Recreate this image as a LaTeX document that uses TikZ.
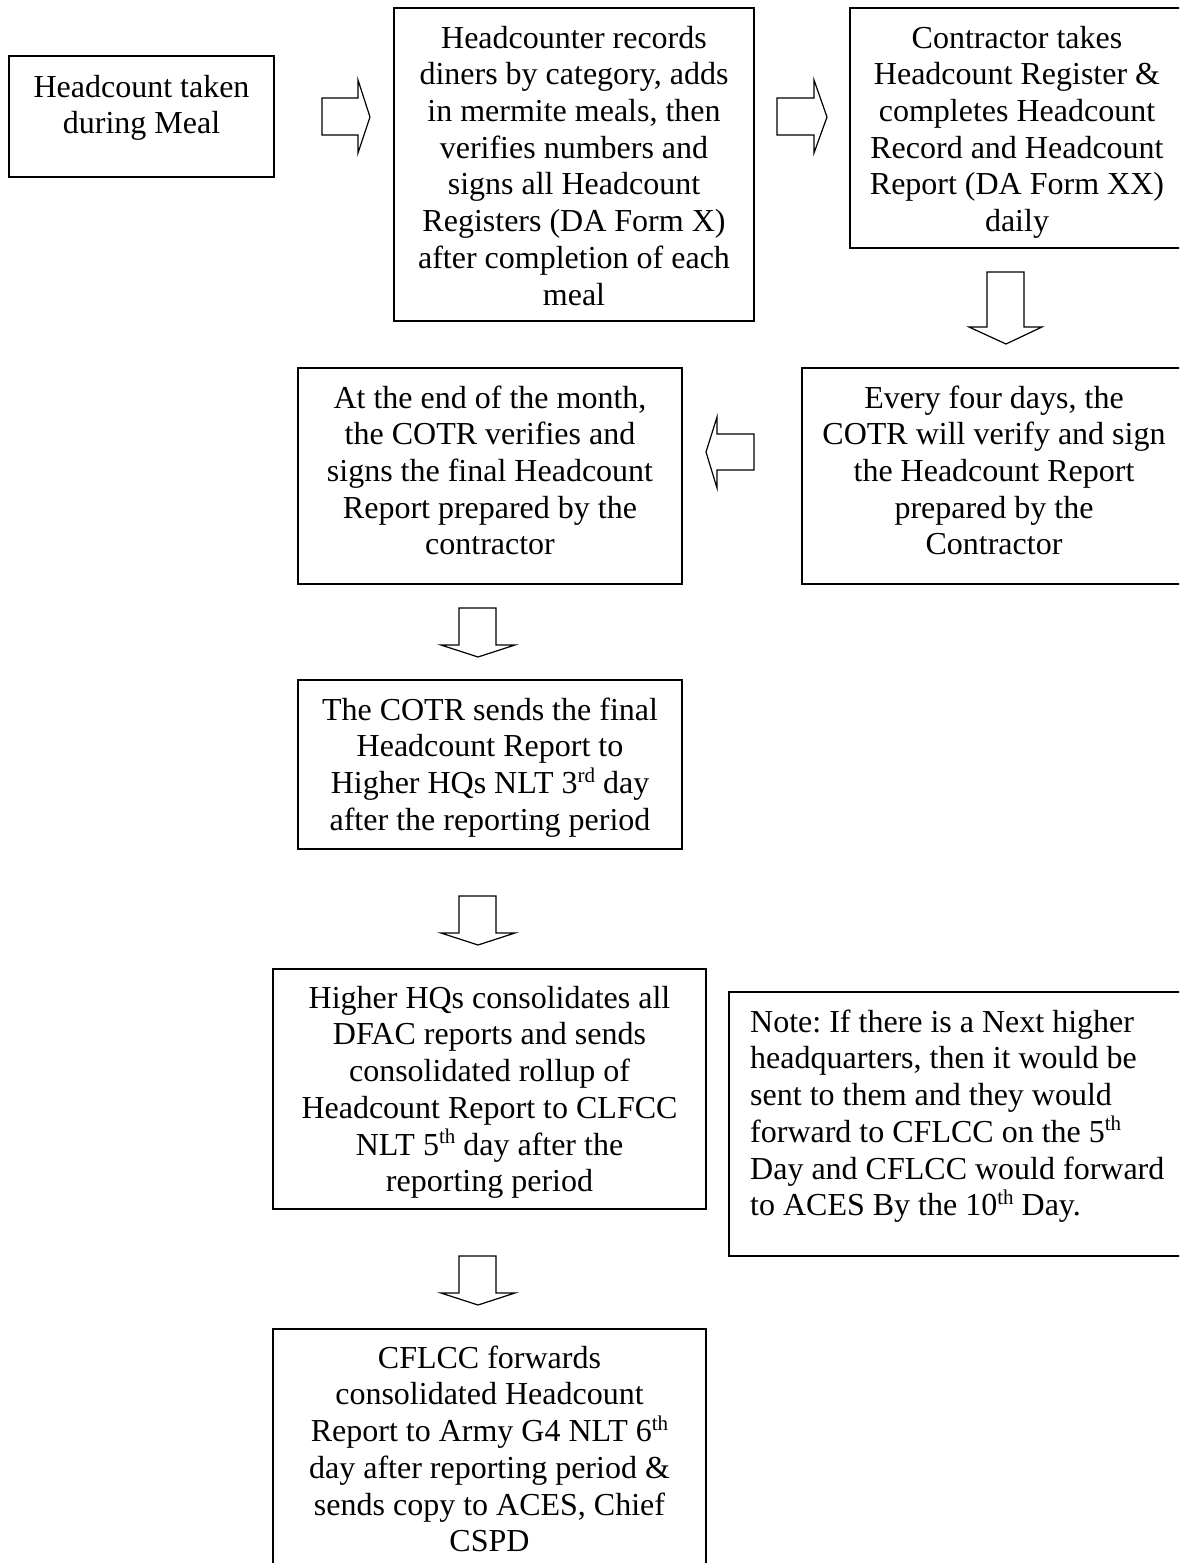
\documentclass[tikz,border=0pt]{standalone}
\usepackage{fontspec}
\setmainfont{Liberation Serif}
\newcommand\mysup[1]{\raisebox{0.36em}{\fontsize{21}{21}\selectfont #1}}
\frenchspacing
\begin{document}
\begin{tikzpicture}[x=1pt,y=-1pt,
  box/.style={draw, line width=1.6pt, inner sep=0pt, outer sep=0pt, anchor=north west},
  txt/.style={font=\fontsize{32}{36.7}\selectfont, align=center, inner sep=0pt, anchor=north},
  notetxt/.style={font=\fontsize{32}{36.7}\selectfont, align=left, inner sep=0pt, anchor=north west},
  blk/.style={draw, line width=1.2pt, fill=white, line join=miter}]
\clip (0,0) rectangle (1179,1563);
\fill[white] (0,0) rectangle (1179,1563);

% boxes
\node[box, minimum width=265pt, minimum height=121pt] (boxA) at (9,56) {};
\node[box, minimum width=360pt, minimum height=313pt] (boxB) at (394,8) {};
\node[box, minimum width=334pt, minimum height=240pt] (boxC) at (850,8) {};
\node[box, minimum width=384pt, minimum height=216pt] (boxD) at (802,368) {};
\node[box, minimum width=384pt, minimum height=216pt] (boxE) at (298,368) {};
\node[box, minimum width=384pt, minimum height=169pt] (boxF) at (298,680) {};
\node[box, minimum width=433pt, minimum height=240pt] (boxG) at (273,969) {};
\node[box, minimum width=461pt, minimum height=264pt] (boxN) at (729,992) {};
\node[box, minimum width=433pt, minimum height=280pt] (boxH) at (273,1329) {};

% texts
\node[txt] (tA) at ([yshift=-15.3pt]boxA.north) {\strut Headcount taken\\during Meal};
\node[txt] (tB) at ([yshift=-14.3pt]boxB.north) {\strut Headcounter records\\diners by category, adds\\in mermite meals, then\\verifies numbers and\\signs all Headcount\\Registers (DA Form X)\\after completion of each\\meal};
\node[txt] (tC) at ([yshift=-14.3pt]boxC.north) {\strut Contractor takes\\Headcount Register \&\\completes Headcount\\Record and Headcount\\Report (DA Form XX)\\daily};
\node[txt] (tD) at ([yshift=-14.3pt]boxD.north) {\strut Every four days, the\\COTR will verify and sign\\the Headcount Report\\prepared by the\\Contractor};
\node[txt] (tE) at ([yshift=-14.3pt]boxE.north) {\strut At the end of the month,\\the COTR verifies and\\signs the final Headcount\\Report prepared by the\\contractor};
\node[txt] (tF) at ([yshift=-14.3pt]boxF.north) {\strut The COTR sends the final\\Headcount Report to\\Higher HQs NLT 3\mysup{rd} day\\after the reporting period};
\node[txt] (tG) at ([yshift=-13.3pt]boxG.north) {\strut Higher HQs consolidates all\\DFAC reports and sends\\consolidated rollup of\\Headcount Report to CLFCC\\NLT 5\mysup{th} day after the\\reporting period};
\node[notetxt] (tN) at ([xshift=21pt,yshift=-14.3pt]boxN.north west) {\strut Note: If there is a Next higher\\headquarters, then it would be\\sent to them and they would\\forward to CFLCC on the 5\mysup{th}\\Day and CFLCC would forward\\to ACES By the 10\mysup{th} Day.};
\node[txt] (tH) at ([yshift=-13.3pt]boxH.north) {\strut CFLCC forwards\\consolidated Headcount\\Report to Army G4 NLT 6\mysup{th}\\day after reporting period \&\\sends copy to ACES, Chief\\CSPD};

% block arrows
\coordinate (arAB) at (370,117);
\draw[blk] (322,98) -- (358,98) -- (358,80) -- (arAB) -- (358,153) -- (358,135) -- (322,135) -- cycle;
\coordinate (arBC) at (827,117);
\draw[blk] (777,98) -- (814,98) -- (814,80) -- (arBC) -- (814,153) -- (814,135) -- (777,135) -- cycle;
\coordinate (arCD) at (1006,344);
\draw[blk] (987,272) -- (1024,272) -- (1024,327) -- (1042,327) -- (arCD) -- (969,327) -- (987,327) -- cycle;
\coordinate (arDE) at (706,452);
\draw[blk] (754,434) -- (717,434) -- (717,417) -- (arDE) -- (717,488) -- (717,470) -- (754,470) -- cycle;
\coordinate (arEF) at (478,657);
\draw[blk] (459,608) -- (496,608) -- (496,645) -- (515,645) -- (arEF) -- (441,645) -- (459,645) -- cycle;
\coordinate (arFG) at (478,945);
\draw[blk] (459,896) -- (496,896) -- (496,933) -- (515,933) -- (arFG) -- (441,933) -- (459,933) -- cycle;
\coordinate (arGH) at (478,1305);
\draw[blk] (459,1256) -- (496,1256) -- (496,1293) -- (515,1293) -- (arGH) -- (441,1293) -- (459,1293) -- cycle;
\end{tikzpicture}
\end{document}
